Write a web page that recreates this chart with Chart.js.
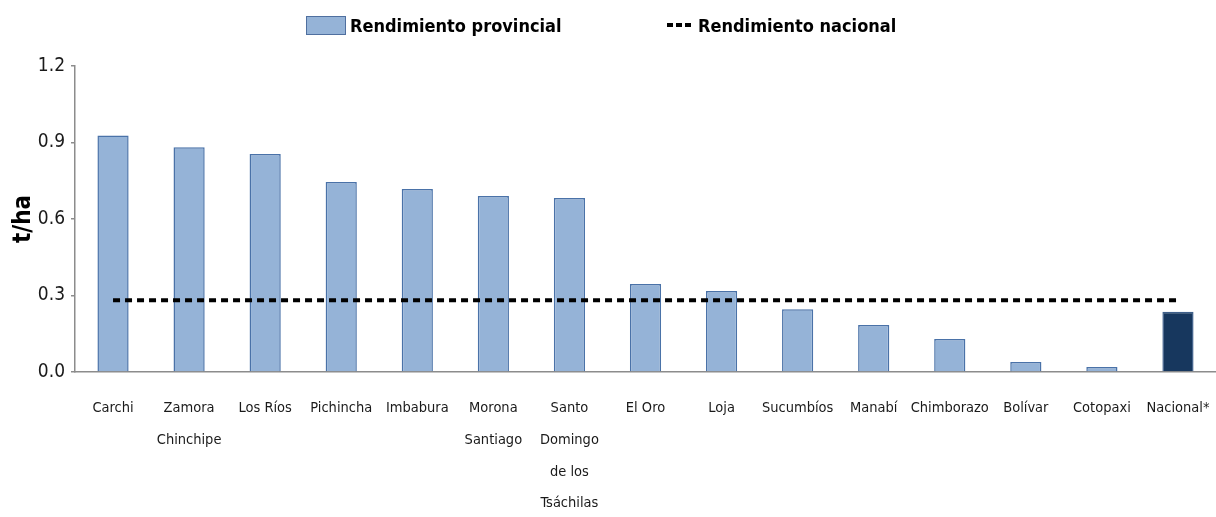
<!DOCTYPE html>
<html>
<head>
<meta charset="utf-8">
<script src="https://cdn.jsdelivr.net/npm/chart.js@4.4.1/dist/chart.umd.min.js"></script>
<style>
  html, body { margin: 0; padding: 0; background: #fff; }
  #wrap { position: relative; width: 1216px; height: 517px; }
  #legend {
    position: absolute; top: 11px; left: 0; width: 1216px;
    font-family: "Liberation Sans Narrow", "DejaVu Sans Condensed", sans-serif;
    font-weight: bold; font-size: 18px; color: #000;
  }
  .item { position: absolute; top: 0; display: flex; align-items: center; height: 28px; }
  .box { width: 38px; height: 17px; background: #95B3D7; border: 1.5px solid #4F6F9F; margin-right: 4px; }
  .dash {
    width: 24px; height: 4px; margin-right: 7px;
    background: repeating-linear-gradient(90deg, #000 0 6px, transparent 6px 9px);
  }
</style>
</head>
<body>
<div id="wrap">
  <canvas id="chart" width="1216" height="517"></canvas>
  <div id="legend">
    <div class="item" style="left:306px"><span class="box"></span>Rendimiento provincial</div>
    <div class="item" style="left:667px"><span class="dash"></span>Rendimiento nacional</div>
  </div>
</div>
<script>
const provinces = ['Carchi', ['Zamora', 'Chinchipe'], 'Los Ríos', 'Pichincha', 'Imbabura',
    ['Morona', 'Santiago'], ['Santo', 'Domingo', 'de los', 'Tsáchilas'], 'El Oro', 'Loja',
    'Sucumbíos', 'Manabí', 'Chimborazo', 'Bolívar', 'Cotopaxi', 'Nacional*'];

// t/ha per province, last one is the national figure
const yieldValues = [0.927, 0.881, 0.855, 0.745, 0.718, 0.690, 0.682, 0.345, 0.318,
    0.246, 0.184, 0.129, 0.039, 0.020, 0.236];

const nationalYield = 0.281;
const yTicks = [0, 0.3, 0.6, 0.9, 1.2];

const font = "'Liberation Sans Narrow', 'DejaVu Sans Condensed', sans-serif";

new Chart(document.getElementById('chart'), {
    data: {
        labels: provinces,
        datasets: [{
            type: 'line',
            data: provinces.map(() => nationalYield),
            borderColor: '#000',
            borderWidth: 4,
            borderDash: [7, 5],
            pointRadius: 0,
            fill: false,
            order: 0
        }, {
            type: 'bar',
            data: yieldValues,
            backgroundColor: yieldValues.map((v, i) => i === yieldValues.length - 1 ? '#17375E' : '#95B3D7'),
            borderColor: yieldValues.map((v, i) => i === yieldValues.length - 1 ? '#3E5F8A' : '#4A72A8'),
            borderWidth: 1.5,
            barPercentage: 0.41,
            categoryPercentage: 1,
            order: 1
        }]
    },
    options: {
        responsive: false,
        animation: false,
        layout: { padding: { top: 66, right: 0, left: 0, bottom: 0 } },
        plugins: {
            legend: { display: false },
            tooltip: { enabled: false }
        },
        scales: {
            x: {
                grid: { display: false },
                border: { color: '#8c8c8c', width: 1.5 },
                ticks: {
                    color: '#1a1a1a',
                    font: { family: font, size: 14.5, lineHeight: 2.2 },
                    maxRotation: 0,
                    autoSkip: false,
                    padding: 12
                },
                afterFit: s => {
                    s.height = 145;
                    // labels may spill past the plot edge, don't shrink the plot for it
                    s.paddingLeft = 0;
                    s.paddingRight = 0;
                }
            },
            y: {
                min: 0,
                max: 1.2,
                afterBuildTicks: s => { s.ticks = yTicks.map(v => ({ value: v })); },
                grid: { drawOnChartArea: false, color: '#8c8c8c', tickLength: 4, lineWidth: 1.5 },
                border: { color: '#8c8c8c', width: 1.5 },
                ticks: {
                    color: '#1a1a1a',
                    font: { family: font, size: 19 },
                    padding: 6,
                    callback: v => v.toFixed(1)
                },
                title: {
                    display: true,
                    text: 't/ha',
                    color: '#000',
                    font: { family: font, size: 24, weight: 'bold' },
                    padding: { top: 9, bottom: 0 }
                },
                afterFit: s => { s.width = 75; }
            }
        }
    }
});
</script>
</body>
</html>
